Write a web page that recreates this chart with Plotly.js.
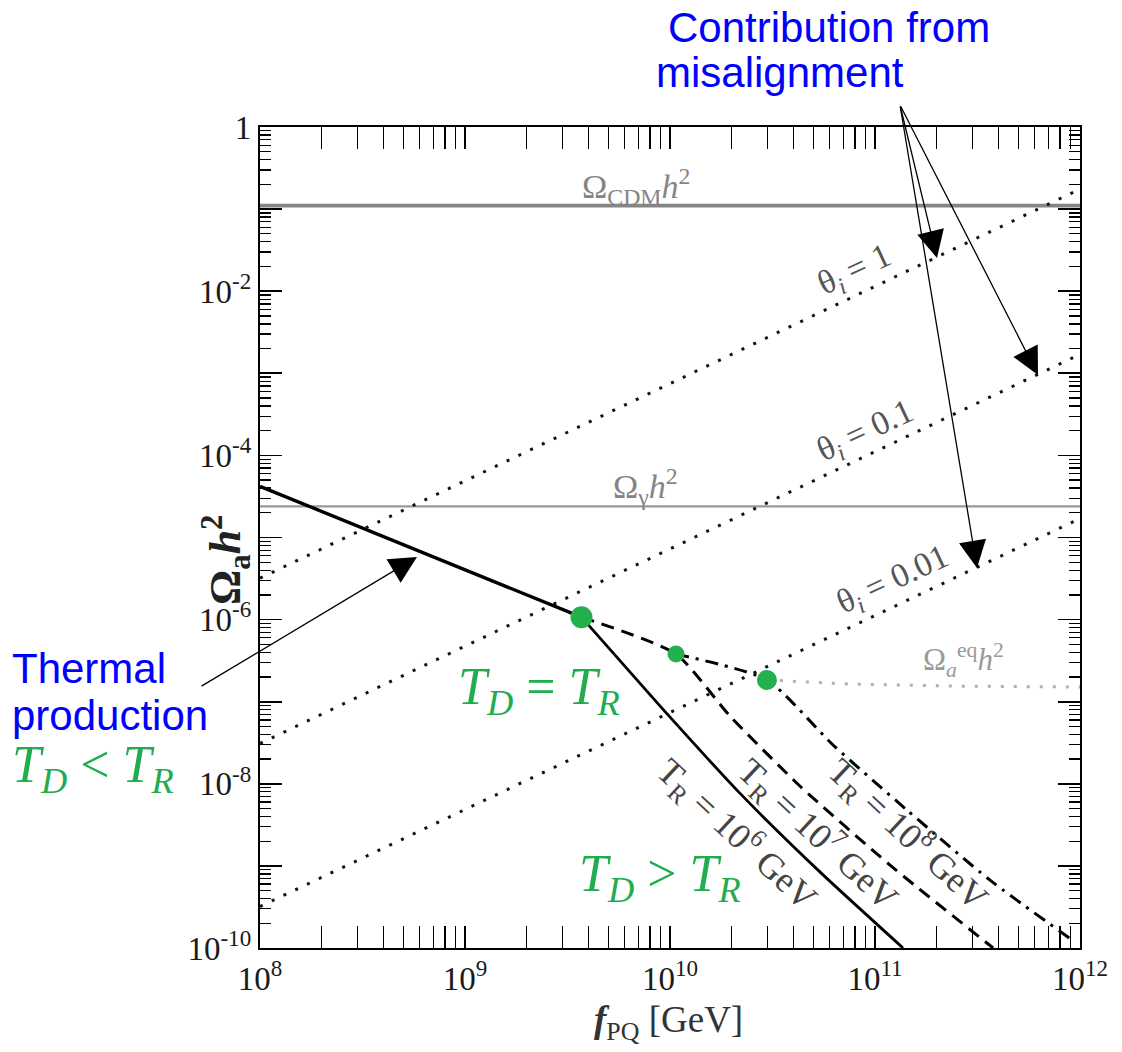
<!DOCTYPE html>
<html>
<head>
<meta charset="utf-8">
<script src="https://cdn.plot.ly/plotly-3.0.1.min.js"></script>
<style>html,body{margin:0;padding:0;background:#fff;}#chart{width:1122px;height:1052px;}</style>
</head>
<body>
<div id="chart"></div>
<script>
// ---- data ----
var fMis       = [1e8, 1e10, 1e12];
var theta1     = [3.2e-6, 7.5e-4, 0.175];
var theta01    = [3.1e-8, 7.2e-6, 1.7e-3];
var theta001   = [3.2e-10, 7.3e-8, 1.7e-5];

var fLine      = [1e8, 1e12];
var omegaCDM   = [0.11, 0.11];
var omegaGamma = [2.4e-5, 2.4e-5];

var fThermal   = [1e8, 1e9, 3.7e9];
var omThermal  = [4.2e-5, 4.0e-6, 1.07e-6];

var fTR6  = [3.7e9, 8.93e9, 2.19e10, 5.4e10, 1.37e11];
var omTR6 = [1.07e-6, 8.9e-8, 7.7e-9, 8.4e-10, 1.0e-10];

var fTR7  = [3.7e9, 1.07e10, 1.96e10, 4.3e10, 1.18e11, 3.77e11];
var omTR7 = [1.07e-6, 3.8e-7, 6.7e-8, 9.4e-9, 1.03e-9, 1.0e-10];

var fTR8  = [1.07e10, 2.97e10, 6.24e10, 1.43e11, 3.64e11, 9.46e11];
var omTR8 = [3.8e-7, 1.84e-7, 2.97e-8, 4.8e-9, 6.7e-10, 1.18e-10];

var fEq   = [2.97e10, 7.55e10, 2.32e11, 1e12];
var omEq  = [1.84e-7, 1.64e-7, 1.55e-7, 1.51e-7];

var fDots  = [3.7e9, 1.07e10, 2.97e10];
var omDots = [1.07e-6, 3.8e-7, 1.84e-7];

var xTickVals = [1e8, 1e9, 1e10, 1e11, 1e12];
var xTickText = ['10<sup>8</sup>', '10<sup>9</sup>', '10<sup>10</sup>', '10<sup>11</sup>', '10<sup>12</sup>'];
var yTickVals = [1, 1e-2, 1e-4, 1e-6, 1e-8, 1e-10];
var yTickText = ['1', '10<sup>-2</sup>', '10<sup>-4</sup>', '10<sup>-6</sup>', '10<sup>-8</sup>', '10<sup>-10</sup>'];
var yOddDecades = [1e-1, 1e-3, 1e-5, 1e-7, 1e-9];

// ---- build ----
function minorVals(lo, hi) {
  var v = [];
  for (var e = lo; e < hi; e++) for (var d = 2; d <= 9; d++) v.push(d * Math.pow(10, e));
  return v;
}
var SERIF = 'Liberation Serif, Times New Roman, serif';
var SANS = 'Liberation Sans, Arial, sans-serif';
var GREEN = 'rgb(34,172,78)';

var dotDash = '3px,10px';
var traces = [
  {x: fLine, y: omegaCDM, mode: 'lines', line: {color: '#858585', width: 3.8}},
  {x: fLine, y: omegaGamma, mode: 'lines', line: {color: '#999', width: 2.2}},
  {x: fMis, y: theta1, mode: 'lines', line: {color: '#111', width: 3, dash: dotDash}},
  {x: fMis, y: theta01, mode: 'lines', line: {color: '#111', width: 3, dash: dotDash}},
  {x: fMis, y: theta001, mode: 'lines', line: {color: '#111', width: 3, dash: dotDash}},
  {x: fEq, y: omEq, mode: 'lines', line: {color: '#b0b0b0', width: 3, dash: dotDash}},
  {x: fThermal, y: omThermal, mode: 'lines', line: {color: '#000', width: 3.4}},
  {x: fTR6, y: omTR6, mode: 'lines', line: {color: '#000', width: 2.8, shape: 'spline', smoothing: 0.6}},
  {x: fTR7, y: omTR7, mode: 'lines', line: {color: '#000', width: 3, dash: '13px,8px', shape: 'spline', smoothing: 0.6}},
  {x: fTR8, y: omTR8, mode: 'lines', line: {color: '#000', width: 3, dash: '13px,7px,3px,7px', shape: 'spline', smoothing: 0.6}},
  {x: fDots, y: omDots, mode: 'markers', opacity: 1, marker: {color: 'rgb(34,177,76)', opacity: 1, size: [22, 17, 20], line: {width: 0}}},
  // carrier for the secondary axis that draws the unlabeled odd-decade major ticks
  {x: fLine, y: omegaCDM, yaxis: 'y2', mode: 'lines', line: {width: 0}, opacity: 0, hoverinfo: 'skip'}
];

// pixel -> paper / log helpers for layout text and arrows
function px(x) { return (x - 260) / 820; }
function py(y) { return (948 - y) / 821; }
function lx(x) { return 8 + (x - 260) / 205; }
function ly(y) { return -(y - 127) / 82.1; }

function txt(text, x, y, opt) {
  var a = {text: text, xref: 'paper', yref: 'paper', x: px(x), y: py(y), showarrow: false,
           xanchor: 'center', yanchor: 'middle', font: {family: SERIF, size: 34, color: '#555'}};
  for (var k in opt) a[k] = opt[k];
  return a;
}
function arrow(tx, ty, sx, sy) {
  return {text: '', xref: 'x', yref: 'y', axref: 'x', ayref: 'y', x: lx(tx), y: ly(ty), ax: lx(sx), ay: ly(sy),
          showarrow: true, arrowhead: 2, arrowsize: 4.2, arrowwidth: 1.3, arrowcolor: '#000', standoff: 0};
}

var annotations = [
  txt('Contribution from', 666, 27, {xanchor: 'left', font: {family: SANS, size: 42, color: '#0000ff'}}),
  txt('misalignment', 654, 72, {xanchor: 'left', font: {family: SANS, size: 42, color: '#0000ff'}}),
  txt('Thermal', 10, 668, {xanchor: 'left', font: {family: SANS, size: 42, color: '#0000ff'}}),
  txt('production', 10, 715, {xanchor: 'left', font: {family: SANS, size: 42, color: '#0000ff'}}),
  txt('<i>T</i><sub><i>D</i></sub> &lt; <i>T</i><sub><i>R</i></sub>', 10, 768, {xanchor: 'left', font: {family: SERIF, size: 52, color: GREEN}}),
  txt('<i>T</i><sub><i>D</i></sub> = <i>T</i><sub><i>R</i></sub>', 622, 690, {xanchor: 'right', font: {family: SERIF, size: 52, color: GREEN}}),
  txt('<i>T</i><sub><i>D</i></sub> &gt; <i>T</i><sub><i>R</i></sub>', 660, 877, {font: {family: SERIF, size: 52, color: GREEN}}),
  txt('Ω<sub>CDM</sub><i>h</i><sup>2</sup>', 636, 186, {font: {family: SERIF, size: 34, color: '#858585'}}),
  txt('Ω<sub>γ</sub><i>h</i><sup>2</sup>', 645, 486, {font: {family: SERIF, size: 34, color: '#858585'}}),
  txt('Ω<sub><i>a</i></sub><sup>eq</sup><i>h</i><sup>2</sup>', 963, 660, {font: {family: SERIF, size: 31, color: '#9a9a9a'}}),
  txt('θ<sub><i>i</i></sub> = 1', 855, 271, {textangle: -25}),
  txt('θ<sub><i>i</i></sub> = 0.1', 866, 432, {textangle: -25}),
  txt('θ<sub><i>i</i></sub> = 0.01', 893, 581, {textangle: -25}),
  txt('T<sub>R</sub> = 10<sup>6</sup> GeV', 737, 834, {textangle: 43, font: {family: SERIF, size: 36, color: '#444'}}),
  txt('T<sub>R</sub> = 10<sup>7</sup> GeV', 818, 834, {textangle: 43, font: {family: SERIF, size: 36, color: '#444'}}),
  txt('T<sub>R</sub> = 10<sup>8</sup> GeV', 908, 834, {textangle: 43, font: {family: SERIF, size: 36, color: '#444'}}),
  txt('<b>Ω</b><sub><b>a</b></sub><b><i>h</i></b><sup><b>2</b></sup>', 226, 560, {textangle: -90, font: {family: SERIF, size: 44, color: '#222'}}),
  txt('<b><i>f</i></b><sub>PQ</sub> [GeV]', 668, 1022, {font: {family: SERIF, size: 37, color: '#333'}}),
  arrow(417, 557, 200, 687),
  arrow(937, 258, 900, 105),
  arrow(1038, 375, 900, 105),
  arrow(977, 568, 900, 105)
];

var axisCommon = {
  type: 'log', showgrid: false, zeroline: false, showline: true, linecolor: '#000', linewidth: 2.2,
  mirror: 'allticks', ticks: 'inside', ticklen: 22, tickwidth: 1.6, tickcolor: '#000',
  tickmode: 'array', tickfont: {family: SERIF, size: 33, color: '#1a1a1a'}
};
var xaxis = Object.assign({}, axisCommon, {
  range: [8, 12], tickvals: xTickVals, ticktext: xTickText,
  minor: {ticks: 'inside', ticklen: 11, tickwidth: 1.3, tickcolor: '#000', tickmode: 'array', tickvals: minorVals(8, 12), showgrid: false}
});
var yaxis = Object.assign({}, axisCommon, {
  range: [-10, 0], tickvals: yTickVals, ticktext: yTickText,
  minor: {ticks: 'inside', ticklen: 11, tickwidth: 1.3, tickcolor: '#000', tickmode: 'array', tickvals: minorVals(-10, 0), showgrid: false}
});
var yaxis2 = {
  type: 'log', range: [-10, 0], overlaying: 'y', side: 'left', anchor: 'x',
  showgrid: false, zeroline: false, showline: false, showticklabels: false,
  mirror: 'allticks', ticks: 'inside', ticklen: 22, tickwidth: 1.6, tickcolor: '#000',
  tickmode: 'array', tickvals: yOddDecades
};

var layout = {
  width: 1122, height: 1052, margin: {l: 260, r: 42, t: 127, b: 104},
  paper_bgcolor: '#fff', plot_bgcolor: '#fff', showlegend: false,
  xaxis: xaxis, yaxis: yaxis, yaxis2: yaxis2, annotations: annotations
};

Plotly.newPlot('chart', traces, layout, {staticPlot: true});
</script>
</body>
</html>
